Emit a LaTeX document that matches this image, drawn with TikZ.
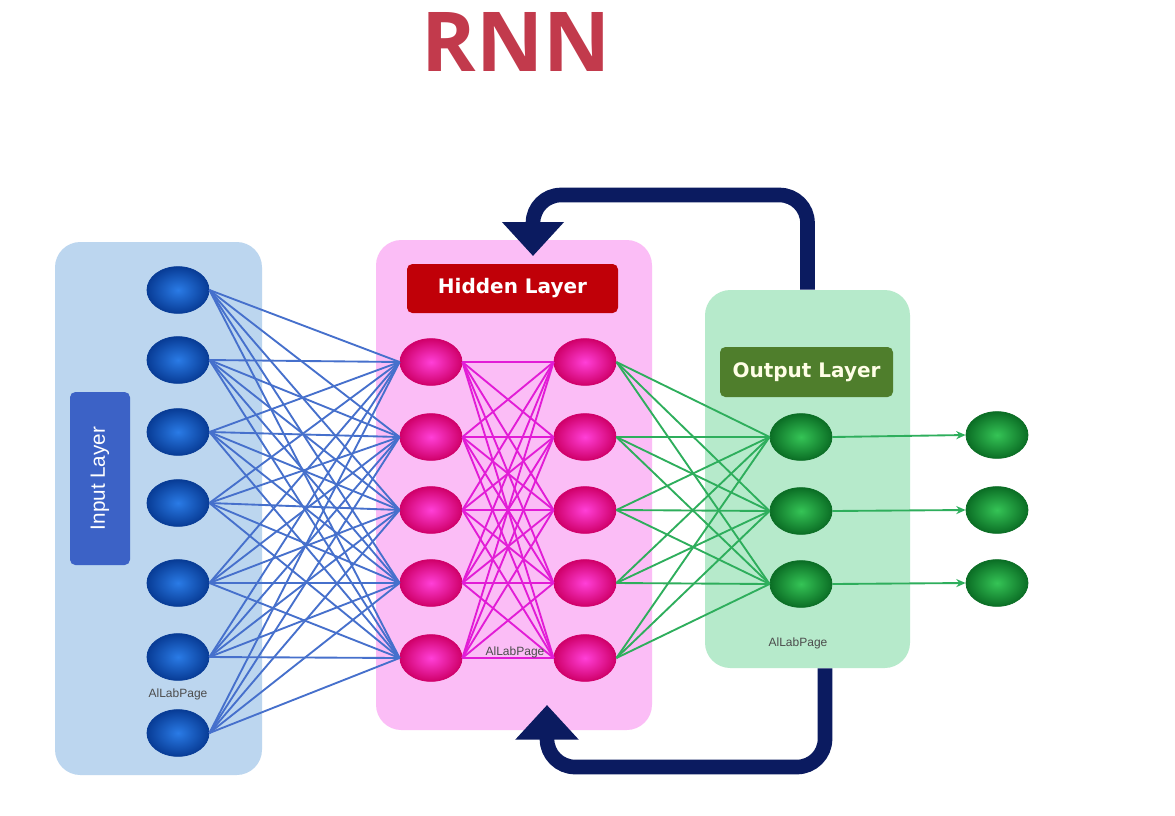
\documentclass[tikz,border=0pt]{standalone}
\usepackage{fontspec}
\usetikzlibrary{shapes.geometric,arrows.meta,calc}
\newfontfamily\titlefont{Open Sans}
\newfontfamily\labfont{DejaVu Sans}
\newfontfamily\arialfont{Liberation Sans}
\definecolor{rnnred}{HTML}{C23A4C}
\definecolor{inbg}{HTML}{BCD6EF}
\definecolor{hidbg}{HTML}{FBBDF6}
\definecolor{outbg}{HTML}{B6EACB}
\definecolor{inlab}{HTML}{3C62C6}
\definecolor{hidlab}{HTML}{C00008}
\definecolor{outlab}{HTML}{4F7E2C}
\definecolor{bluedark}{HTML}{083C96}
\definecolor{bluelight}{HTML}{2A7BE6}
\definecolor{pinkdark}{HTML}{D0006A}
\definecolor{pinklight}{HTML}{FF3FD8}
\definecolor{greendark}{HTML}{0B6E25}
\definecolor{greenlight}{HTML}{35C456}
\definecolor{blueedge}{HTML}{4670CC}
\definecolor{pinkedge}{HTML}{E21CD6}
\definecolor{greenedge}{HTML}{2EAE5C}
\definecolor{navy}{HTML}{0B1B60}
\begin{document}
\begin{tikzpicture}[x=0.75pt,y=-0.75pt,
  panel/.style={rounded corners=19pt, inner sep=0pt},
  neuron/.style={ellipse, minimum width=46.5pt, minimum height=35pt, inner sep=0pt, line width=0.6pt},
  bneuron/.style={neuron, draw=bluedark, inner color=bluelight, outer color=bluedark},
  pneuron/.style={neuron, draw=pinkdark, inner color=pinklight, outer color=pinkdark},
  gneuron/.style={neuron, draw=greendark, inner color=greenlight, outer color=greendark},
  labbox/.style={rounded corners=4pt, inner sep=0pt, text=white},
  wm/.style={font=\arialfont\fontsize{9}{10}\selectfont, text=black!70},
  bedge/.style={draw=blueedge, line width=1.4pt},
  pedge/.style={draw=pinkedge, line width=1.4pt},
  gedge/.style={draw=greenedge, line width=1.4pt},
  fb/.style={draw=navy, line width=11pt, rounded corners=21pt}
]
\useasboundingbox (0,0) rectangle (1175,815);
\fill[white] (0,0) rectangle (1175,815);

% title
\node[font=\titlefont\bfseries\fontsize{62}{62}\selectfont, text=rnnred] (title) at (516,42) {RNN};

% panels
\node[panel, fill=inbg, minimum width=155.25pt, minimum height=399.75pt] (inpanel) at (158.5,508.5) {};
\node[panel, fill=hidbg, minimum width=207pt, minimum height=367.5pt] (hidpanel) at (514,485) {};
\node[panel, fill=outbg, minimum width=153.75pt, minimum height=283.5pt] (outpanel) at (807.5,479) {};

% labels
\node[labbox, fill=inlab, minimum width=45pt, minimum height=129.75pt] (inlabel) at (100,478.5) {};
\node[font=\arialfont\fontsize{15.5}{15.5}\selectfont, text=white, rotate=90] (inlabtext) at (100,478.5) {Input Layer};
\node[labbox, fill=hidlab, minimum width=158.25pt, minimum height=36.75pt, font=\labfont\bfseries\fontsize{15}{15}\selectfont] (hidlabel) at (512.5,288.5) {Hidden Layer};
\node[labbox, fill=outlab, minimum width=129.75pt, minimum height=37.5pt, font=\labfont\bfseries\fontsize{15}{15}\selectfont, text=white!90!yellow] (outlabel) at (806.5,372) {Output Layer};

% neurons
\foreach \i/\y in {1/290,2/360,3/432,4/503,5/583,6/657,7/733}
  \node[bneuron] (i\i) at (178,\y) {};
\foreach \i/\y in {1/362,2/437,3/510,4/583,5/658} {
  \node[pneuron] (h\i) at (431,\y) {};
  \node[pneuron] (k\i) at (585,\y) {};
}
\foreach \i/\y in {1/437,2/511,3/584}
  \node[gneuron] (o\i) at (801,\y) {};
\foreach \i/\y in {1/435,2/510,3/583}
  \node[gneuron] (f\i) at (997,\y) {};

% connections
\foreach \a in {1,...,7}
  \foreach \b in {1,...,5}
    \draw[bedge] (i\a.east) -- (h\b.west);
\foreach \a in {1,...,5}
  \foreach \b in {1,...,5}
    \draw[pedge] (h\a.east) -- (k\b.west);
\foreach \a in {1,...,5}
  \foreach \b in {1,...,3}
    \draw[gedge] (k\a.east) -- (o\b.west);
\foreach \a in {1,2,3}
  \draw[gedge, -{Stealth[length=7pt,width=6pt]}] (o\a.east) -- (f\a.west);

% watermarks
\node[wm] (wm1) at (178,694) {AlLabPage};
\node[wm] (wm2) at (515,652) {AlLabPage};
\node[wm] (wm3) at (798,643) {AlLabPage};

% feedback loops
\coordinate (ttip) at (533,256);
\coordinate (btip) at (547,705);
\draw[fb, -{Triangle[width=45pt,length=25.5pt]}] (outpanel.north) -- (807.5,195) -| (ttip);
\draw[fb, -{Triangle[width=46pt,length=26pt]}] ($(outpanel.south)+(17.5,0)$) -- (825,767) -| (btip);
\end{tikzpicture}
\end{document}
